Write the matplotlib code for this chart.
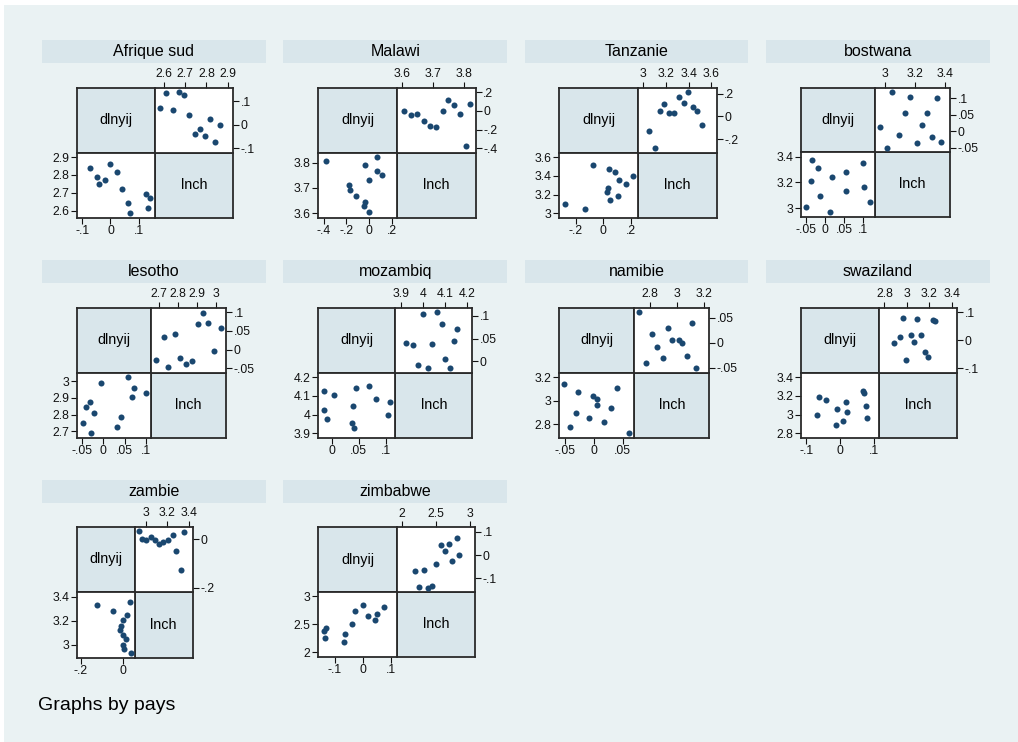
import matplotlib
matplotlib.use("Agg")
import matplotlib.pyplot as plt
from matplotlib.patches import Rectangle

plt.rcParams['font.family'] = ['Liberation Sans', 'DejaVu Sans']

# Data: (dlnyij, lnch) per pays
afrique_dlnyij = [-0.073, -0.046, -0.041, -0.019, 0.000, 0.024, 0.042, 0.062, 0.069, 0.126, 0.138, 0.133]
afrique_lnch = [2.842, 2.791, 2.747, 2.770, 2.864, 2.815, 2.719, 2.642, 2.585, 2.694, 2.670, 2.613]

malawi_dlnyij = [-0.377, -0.177, -0.165, -0.113, -0.038, -0.038, -0.043, 0.000, 0.003, 0.067, 0.075, 0.113]
malawi_lnch = [3.807, 3.710, 3.690, 3.669, 3.789, 3.646, 3.627, 3.732, 3.604, 3.768, 3.821, 3.749]

tanzanie_dlnyij = [-0.281, -0.133, -0.074, 0.045, 0.083, 0.033, 0.029, 0.052, 0.117, 0.110, 0.169, 0.214]
tanzanie_lnch = [3.101, 3.050, 3.515, 3.473, 3.437, 3.274, 3.225, 3.143, 3.356, 3.186, 3.317, 3.398]

bostwana_dlnyij = [-0.050, -0.034, -0.036, -0.019, -0.012, 0.012, 0.018, 0.054, 0.056, 0.100, 0.103, 0.118]
bostwana_lnch = [3.011, 3.376, 3.211, 3.315, 3.091, 2.968, 3.245, 3.283, 3.131, 3.349, 3.168, 3.048]

lesotho_dlnyij = [-0.048, -0.040, -0.031, -0.028, -0.022, -0.005, 0.033, 0.042, 0.058, 0.068, 0.072, 0.099]
lesotho_lnch = [2.751, 2.844, 2.874, 2.689, 2.811, 2.989, 2.726, 2.786, 3.024, 2.904, 2.957, 2.931]

mozambiq_dlnyij = [-0.014, 0.005, -0.015, -0.008, 0.045, 0.039, 0.037, 0.041, 0.070, 0.083, 0.108, 0.105]
mozambiq_lnch = [4.124, 4.102, 4.024, 3.978, 4.141, 4.044, 3.956, 3.926, 4.154, 4.085, 4.065, 4.000]

namibie_dlnyij = [-0.051, -0.027, -0.031, -0.041, -0.009, -0.001, 0.005, 0.006, 0.018, 0.030, 0.040, 0.061]
namibie_lnch = [3.142, 3.075, 2.893, 2.771, 2.855, 3.038, 3.012, 2.965, 2.817, 2.933, 3.110, 2.722]

swaziland_dlnyij = [-0.069, -0.061, -0.042, -0.007, -0.010, 0.010, 0.018, 0.020, 0.068, 0.071, 0.077, 0.081]
swaziland_lnch = [2.993, 3.189, 3.157, 3.061, 2.889, 2.936, 3.129, 3.032, 3.254, 3.229, 3.089, 2.961]

zambie_dlnyij = [0.034, 0.003, -0.004, 0.010, -0.004, -0.018, -0.010, -0.004, 0.019, -0.050, -0.125, 0.032]
zambie_lnch = [2.930, 2.965, 3.000, 3.045, 3.080, 3.120, 3.160, 3.205, 3.250, 3.285, 3.330, 3.360]

zimbabwe_dlnyij = [-0.139, -0.131, -0.136, -0.068, -0.062, -0.040, -0.027, -0.001, 0.017, 0.042, 0.049, 0.075]
zimbabwe_lnch = [2.389, 2.437, 2.257, 2.192, 2.323, 2.509, 2.743, 2.844, 2.641, 2.581, 2.689, 2.808]

pays = ["Afrique sud", "Malawi", "Tanzanie", "bostwana", "lesotho",
        "mozambiq", "namibie", "swaziland", "zambie", "zimbabwe"]
dlnyij = [afrique_dlnyij, malawi_dlnyij, tanzanie_dlnyij, bostwana_dlnyij, lesotho_dlnyij,
          mozambiq_dlnyij, namibie_dlnyij, swaziland_dlnyij, zambie_dlnyij, zimbabwe_dlnyij]
lnch = [afrique_lnch, malawi_lnch, tanzanie_lnch, bostwana_lnch, lesotho_lnch,
        mozambiq_lnch, namibie_lnch, swaziland_lnch, zambie_lnch, zimbabwe_lnch]

# tick values
dlnyij_ticks = [[-.1, 0, .1], [-.4, -.2, 0, .2], [-.2, 0, .2], [-.05, 0, .05, .1], [-.05, 0, .05, .1],
                [0, .05, .1], [-.05, 0, .05], [-.1, 0, .1], [-.2, 0], [-.1, 0, .1]]
lnch_ticks = [[2.6, 2.7, 2.8, 2.9], [3.6, 3.7, 3.8], [3, 3.2, 3.4, 3.6], [3, 3.2, 3.4], [2.7, 2.8, 2.9, 3],
              [3.9, 4, 4.1, 4.2], [2.8, 3, 3.2], [2.8, 3, 3.2, 3.4], [3, 3.2, 3.4], [2, 2.5, 3]]

# layout in pixels: matrix box (left, top, right, bottom)
boxes = [(76.7, 87.7, 233.3, 217.7), (318.3, 87.7, 475.7, 217.7), (559.3, 87.7, 716.7, 217.7),
         (800.7, 87.7, 950, 216.7), (76.7, 307.7, 226, 437.7), (318.3, 307.7, 472.3, 437.7),
         (559.3, 307.7, 709.3, 437.7), (800.7, 307.7, 957.3, 437.7), (76.7, 526.7, 192.7, 657.7),
         (318.3, 527.3, 475, 656.7)]
strip_x = [(41.7, 265.7), (283.3, 507.3), (525, 748.3), (766, 990)]
strip_top = [40, 260, 480]

W, H = 1018, 742
BG = '#EAF2F3'
SHADE = '#D9E6EB'
DOT = '#1A476F'
FRAME = '#2a2a2a'

fig = plt.figure(figsize=(W / 100, H / 100), dpi=100)
fig.patches.append(Rectangle((4 / W, 0), 1, 1 - 5 / H, transform=fig.transFigure,
                             facecolor=BG, edgecolor='none', zorder=-10))


def px_axes(l, t, r, b, **kw):
    return fig.add_axes([l / W, 1 - b / H, (r - l) / W, (b - t) / H], **kw)


def fmt(v):
    s = f"{v:g}"
    if s.startswith("0."):
        s = s[1:]
    elif s.startswith("-0."):
        s = "-" + s[2:]
    return s


def limits(vals, ticks, pad=0.08):
    lo = min(min(vals), min(ticks))
    hi = max(max(vals), max(ticks))
    span = hi - lo
    return lo - pad * span, hi + pad * span


def style(ax):
    for sp in ax.spines.values():
        sp.set_linewidth(1.3)
        sp.set_color(FRAME)
    ax.tick_params(length=4, width=0.8, labelsize=8.8, pad=1.5, colors='#111111')


for i, name in enumerate(pays):
    l, t, r, b = boxes[i]
    mx, my = (l + r) / 2, (t + b) / 2
    col, row = i % 4, i // 4

    # strip title
    sl, sr = strip_x[col]
    st = strip_top[row]
    fig.patches.append(Rectangle((sl / W, 1 - (st + 22.5) / H), (sr - sl) / W, 22.5 / H,
                                 transform=fig.transFigure, facecolor=SHADE, edgecolor='none'))
    fig.text((sl + sr) / 2 / W, 1 - (st + 11.5) / H, name, ha='center', va='center', fontsize=11.5)

    xl = limits(dlnyij[i], dlnyij_ticks[i])
    yl = limits(lnch[i], lnch_ticks[i])

    # diagonal cells
    for (a, bb, c, d), lab in [((l, t, mx, my), 'dlnyij'), ((mx, my, r, b), 'lnch')]:
        ax = px_axes(a, bb, c, d)
        ax.set_facecolor(SHADE)
        ax.set_xticks([])
        ax.set_yticks([])
        style(ax)
        ax.text(0.5, 0.5, lab, transform=ax.transAxes, ha='center', va='center', fontsize=10.4)

    # top-right: x = lnch, y = dlnyij
    ax = px_axes(mx, t, r, my)
    ax.scatter(lnch[i], dlnyij[i], s=19, color=DOT, linewidths=0, zorder=3)
    ax.set_xlim(yl)
    ax.set_ylim(xl)
    ax.xaxis.tick_top()
    ax.yaxis.tick_right()
    ax.set_xticks(lnch_ticks[i], [fmt(v) for v in lnch_ticks[i]])
    ax.set_yticks(dlnyij_ticks[i], [fmt(v) for v in dlnyij_ticks[i]])
    style(ax)

    # bottom-left: x = dlnyij, y = lnch
    ax = px_axes(l, my, mx, b)
    ax.scatter(dlnyij[i], lnch[i], s=19, color=DOT, linewidths=0, zorder=3)
    ax.set_xlim(xl)
    ax.set_ylim(yl)
    ax.set_xticks(dlnyij_ticks[i], [fmt(v) for v in dlnyij_ticks[i]])
    ax.set_yticks(lnch_ticks[i], [fmt(v) for v in lnch_ticks[i]])
    style(ax)

fig.text(38 / W, 1 - 705 / H, "Graphs by pays", ha='left', va='center', fontsize=14)

fig.savefig("out.png", dpi=100)
